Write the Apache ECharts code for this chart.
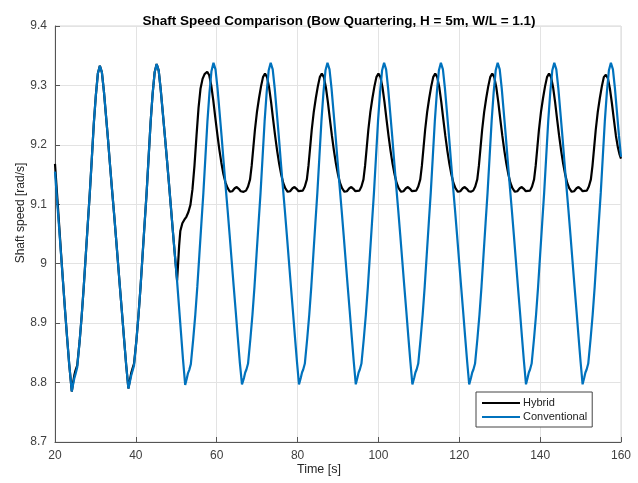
<!DOCTYPE html>
<html>
<head>
<meta charset="utf-8">
<script src="https://cdn.jsdelivr.net/npm/echarts@6/dist/echarts.min.js"></script>
<style>
  html, body { margin: 0; padding: 0; background: #fff; }
  #chart { width: 638px; height: 483px; }
</style>
</head>
<body>
<div id="chart"></div>
<script>
var titleText = 'Shaft Speed Comparison (Bow Quartering, H = 5m, W/L = 1.1)';
var xLabel = 'Time [s]';
var yLabel = 'Shaft speed [rad/s]';
var xTicks = [20, 40, 60, 80, 100, 120, 140, 160];
var yTicks = [8.7, 8.8, 8.9, 9.0, 9.1, 9.2, 9.3, 9.4];
var seriesNames = ['Hybrid', 'Conventional'];

// time [s], shaft speed [rad/s]
var conventional = [
  [20, 9.155], [20.5, 9.108], [21, 9.062], [21.5, 9.015], [22, 8.968], [22.5, 8.92], [23, 8.875], [23.5, 8.832], [24.15, 8.785],
  [24.5, 8.798], [24.8, 8.808], [25.1, 8.815], [25.5, 8.826], [26.1, 8.87], [26.6, 8.912], [27.1, 8.96], [27.6, 9.013],
  [28.1, 9.066], [28.6, 9.118], [29.1, 9.176], [29.6, 9.236], [30.1, 9.283], [30.6, 9.32], [31.1, 9.333],
  [31.6, 9.322], [32.1, 9.29], [32.6, 9.25], [33.1, 9.21], [33.6, 9.167], [34.1, 9.125], [34.6, 9.085], [35.1, 9.043],
  [35.6, 9.0], [36.1, 8.957], [36.6, 8.915], [37.1, 8.872], [37.6, 8.83], [38.15, 8.79],
  [38.55, 8.802], [38.85, 8.812], [39.15, 8.819], [39.55, 8.829], [40.15, 8.872], [40.65, 8.913], [41.15, 8.96], [41.65, 9.013],
  [42.15, 9.066], [42.65, 9.118], [43.15, 9.178], [43.65, 9.238], [44.15, 9.286], [44.65, 9.322], [45.15, 9.336],
  [45.65, 9.325], [46.15, 9.293], [46.65, 9.255], [47.15, 9.217], [47.65, 9.178], [48.15, 9.138], [48.65, 9.097], [49.15, 9.055],
  [49.65, 9.015], [50.15, 8.975], [50.65, 8.93], [51.15, 8.885], [51.65, 8.84], [52.2, 8.796],
  [52.6, 8.807], [52.9, 8.816], [53.2, 8.821], [53.6, 8.831], [54.2, 8.874], [54.7, 8.914], [55.2, 8.961], [55.7, 9.014],
  [56.2, 9.067], [56.7, 9.119], [57.2, 9.179], [57.7, 9.239], [58.2, 9.287], [58.7, 9.324], [59.2, 9.338],
  [59.7, 9.327], [60.2, 9.295], [60.7, 9.255], [61.2, 9.215], [61.7, 9.172], [62.2, 9.13], [62.7, 9.09], [63.2, 9.048],
  [63.7, 9.005], [64.2, 8.962], [64.7, 8.92], [65.2, 8.877], [65.7, 8.835], [66.25, 8.797],
  [66.75, 8.808], [67.05, 8.817], [67.35, 8.822], [67.75, 8.832], [68.35, 8.875], [68.85, 8.915], [69.35, 8.962], [69.85, 9.015],
  [70.35, 9.068], [70.85, 9.12], [71.35, 9.18], [71.85, 9.24], [72.35, 9.288], [72.85, 9.325], [73.35, 9.338],
  [73.85, 9.327], [74.35, 9.295], [74.85, 9.255], [75.35, 9.215], [75.85, 9.172], [76.35, 9.13], [76.85, 9.09], [77.35, 9.048],
  [77.85, 9.005], [78.35, 8.962], [78.85, 8.92], [79.35, 8.877], [79.85, 8.835], [80.35, 8.797],
  [80.8, 8.808], [81.1, 8.817], [81.4, 8.822], [81.8, 8.832], [82.4, 8.875], [82.9, 8.915], [83.4, 8.962], [83.9, 9.015],
  [84.4, 9.068], [84.9, 9.12], [85.4, 9.18], [85.9, 9.24], [86.4, 9.288], [86.9, 9.325], [87.4, 9.338],
  [87.9, 9.327], [88.4, 9.295], [88.9, 9.255], [89.4, 9.215], [89.9, 9.172], [90.4, 9.13], [90.9, 9.09], [91.4, 9.048],
  [91.9, 9.005], [92.4, 8.962], [92.9, 8.92], [93.4, 8.877], [93.9, 8.835], [94.4, 8.797],
  [94.8, 8.808], [95.1, 8.817], [95.4, 8.822], [95.8, 8.832], [96.4, 8.875], [96.9, 8.915], [97.4, 8.962], [97.9, 9.015],
  [98.4, 9.068], [98.9, 9.12], [99.4, 9.18], [99.9, 9.24], [100.4, 9.288], [100.9, 9.325], [101.4, 9.338],
  [101.9, 9.327], [102.4, 9.295], [102.9, 9.255], [103.4, 9.215], [103.9, 9.172], [104.4, 9.13], [104.9, 9.09], [105.4, 9.048],
  [105.9, 9.005], [106.4, 8.962], [106.9, 8.92], [107.4, 8.877], [107.9, 8.835], [108.4, 8.797],
  [108.85, 8.808], [109.15, 8.817], [109.45, 8.822], [109.85, 8.832], [110.45, 8.875], [110.95, 8.915], [111.45, 8.962], [111.95, 9.015],
  [112.45, 9.068], [112.95, 9.12], [113.45, 9.18], [113.95, 9.24], [114.45, 9.288], [114.95, 9.325], [115.45, 9.338],
  [115.95, 9.327], [116.45, 9.295], [116.95, 9.255], [117.45, 9.215], [117.95, 9.172], [118.45, 9.13], [118.95, 9.09], [119.45, 9.048],
  [119.95, 9.005], [120.45, 8.962], [120.95, 8.92], [121.45, 8.877], [121.95, 8.835], [122.45, 8.797],
  [122.9, 8.808], [123.2, 8.817], [123.5, 8.822], [123.9, 8.832], [124.5, 8.875], [125.0, 8.915], [125.5, 8.962], [126.0, 9.015],
  [126.5, 9.068], [127.0, 9.12], [127.5, 9.18], [128.0, 9.24], [128.5, 9.288], [129.0, 9.325], [129.5, 9.338],
  [130.0, 9.327], [130.5, 9.295], [131.0, 9.255], [131.5, 9.215], [132.0, 9.172], [132.5, 9.13], [133.0, 9.09], [133.5, 9.048],
  [134.0, 9.005], [134.5, 8.962], [135.0, 8.92], [135.5, 8.877], [136.0, 8.835], [136.5, 8.797],
  [136.9, 8.808], [137.2, 8.817], [137.5, 8.822], [137.9, 8.832], [138.5, 8.875], [139.0, 8.915], [139.5, 8.962], [140.0, 9.015],
  [140.5, 9.068], [141.0, 9.12], [141.5, 9.18], [142.0, 9.24], [142.5, 9.288], [143.0, 9.325], [143.5, 9.338],
  [144.0, 9.327], [144.5, 9.295], [145.0, 9.255], [145.5, 9.215], [146.0, 9.172], [146.5, 9.13], [147.0, 9.09], [147.5, 9.048],
  [148.0, 9.005], [148.5, 8.962], [149.0, 8.92], [149.5, 8.877], [150.0, 8.835], [150.5, 8.797],
  [150.9, 8.808], [151.2, 8.817], [151.5, 8.822], [151.9, 8.832], [152.5, 8.875], [153.0, 8.915], [153.5, 8.962], [154.0, 9.015],
  [154.5, 9.068], [155.0, 9.12], [155.5, 9.18], [156.0, 9.24], [156.5, 9.288], [157.0, 9.325], [157.5, 9.338],
  [158.0, 9.327], [158.5, 9.295], [159.0, 9.255], [159.5, 9.215], [160.0, 9.18]
];

var hybrid = [
  [20, 9.168], [20.5, 9.118], [21, 9.068], [21.5, 9.017], [22, 8.968], [22.5, 8.92], [23, 8.875], [23.5, 8.832], [24.15, 8.785],
  [24.5, 8.801], [24.8, 8.813], [25.1, 8.821], [25.5, 8.829], [26.1, 8.87], [26.6, 8.912], [27.1, 8.96], [27.6, 9.013],
  [28.1, 9.066], [28.6, 9.118], [29.1, 9.176], [29.6, 9.236], [30.1, 9.283], [30.6, 9.32], [31.1, 9.333],
  [31.6, 9.322], [32.1, 9.29], [32.6, 9.25], [33.1, 9.21], [33.6, 9.167], [34.1, 9.125], [34.6, 9.085], [35.1, 9.043],
  [35.6, 9.0], [36.1, 8.957], [36.6, 8.915], [37.1, 8.872], [37.6, 8.83], [38.15, 8.79],
  [38.55, 8.805], [38.85, 8.816], [39.15, 8.823], [39.55, 8.832], [40.15, 8.872], [40.65, 8.913], [41.15, 8.96], [41.65, 9.013],
  [42.15, 9.066], [42.65, 9.118], [43.15, 9.178], [43.65, 9.238], [44.15, 9.286], [44.65, 9.322], [45.15, 9.336],
  [45.65, 9.325], [46.15, 9.293], [46.65, 9.255], [47.15, 9.217], [47.65, 9.178], [48.15, 9.138], [48.65, 9.097], [49.15, 9.055],
  [49.65, 9.015], [50.2, 8.972], [50.45, 9.0], [50.7, 9.03], [51.0, 9.055], [51.5, 9.068], [52.0, 9.074], [52.5, 9.079],
  [53.0, 9.087], [53.5, 9.099], [54.0, 9.125], [54.5, 9.165], [55.0, 9.215], [55.5, 9.262], [56.0, 9.295], [56.5, 9.311],
  [57.0, 9.319], [57.65, 9.323],
  [58.15, 9.317], [58.65, 9.3], [59.15, 9.275], [59.65, 9.246], [60.15, 9.218], [60.65, 9.192], [61.15, 9.17], [61.65, 9.151],
  [62.15, 9.137], [62.65, 9.128], [63.25, 9.121], [63.85, 9.122], [64.45, 9.127], [64.95, 9.129], [65.45, 9.126], [65.95, 9.122],
  [66.65, 9.121], [67.25, 9.123], [67.75, 9.13], [68.25, 9.142], [68.65, 9.165], [69.05, 9.195], [69.45, 9.225], [69.95, 9.255],
  [70.45, 9.278], [70.95, 9.298], [71.45, 9.314], [71.95, 9.32],
  [72.45, 9.314], [72.95, 9.297], [73.45, 9.272], [73.95, 9.243], [74.45, 9.215], [74.95, 9.19], [75.45, 9.168], [75.95, 9.15],
  [76.45, 9.136], [76.95, 9.127], [77.55, 9.121], [78.15, 9.122], [78.75, 9.127], [79.25, 9.129], [79.75, 9.126], [80.25, 9.122],
  [80.7, 9.121], [81.3, 9.123], [81.8, 9.13], [82.3, 9.142], [82.7, 9.165], [83.1, 9.195], [83.5, 9.225], [84.0, 9.255],
  [84.5, 9.278], [85.0, 9.298], [85.5, 9.314], [86.0, 9.32],
  [86.5, 9.314], [87.0, 9.297], [87.5, 9.272], [88.0, 9.243], [88.5, 9.215], [89.0, 9.19], [89.5, 9.168], [90.0, 9.15],
  [90.5, 9.136], [91.0, 9.127], [91.6, 9.121], [92.2, 9.122], [92.8, 9.127], [93.3, 9.129], [93.8, 9.126], [94.3, 9.122],
  [94.7, 9.121], [95.3, 9.123], [95.8, 9.13], [96.3, 9.142], [96.7, 9.165], [97.1, 9.195], [97.5, 9.225], [98.0, 9.255],
  [98.5, 9.278], [99.0, 9.298], [99.5, 9.314], [100.0, 9.32],
  [100.5, 9.314], [101.0, 9.297], [101.5, 9.272], [102.0, 9.243], [102.5, 9.215], [103.0, 9.19], [103.5, 9.168], [104.0, 9.15],
  [104.5, 9.136], [105.0, 9.127], [105.6, 9.121], [106.2, 9.122], [106.8, 9.127], [107.3, 9.129], [107.8, 9.126], [108.3, 9.122],
  [108.75, 9.121], [109.35, 9.123], [109.85, 9.13], [110.35, 9.142], [110.75, 9.165], [111.15, 9.195], [111.55, 9.225], [112.05, 9.255],
  [112.55, 9.278], [113.05, 9.298], [113.55, 9.314], [114.05, 9.32],
  [114.55, 9.314], [115.05, 9.297], [115.55, 9.272], [116.05, 9.243], [116.55, 9.215], [117.05, 9.19], [117.55, 9.168], [118.05, 9.15],
  [118.55, 9.136], [119.05, 9.127], [119.65, 9.121], [120.25, 9.122], [120.85, 9.127], [121.35, 9.129], [121.85, 9.126], [122.35, 9.122],
  [122.85, 9.121], [123.45, 9.123], [123.95, 9.13], [124.45, 9.142], [124.85, 9.165], [125.25, 9.195], [125.65, 9.225], [126.15, 9.255],
  [126.65, 9.278], [127.15, 9.298], [127.65, 9.314], [128.15, 9.32],
  [128.65, 9.314], [129.15, 9.297], [129.65, 9.272], [130.15, 9.243], [130.65, 9.215], [131.15, 9.19], [131.65, 9.168], [132.15, 9.15],
  [132.65, 9.136], [133.15, 9.127], [133.75, 9.121], [134.35, 9.122], [134.95, 9.127], [135.45, 9.129], [135.95, 9.126], [136.45, 9.122],
  [136.9, 9.121], [137.5, 9.123], [138.0, 9.13], [138.5, 9.142], [138.9, 9.165], [139.3, 9.195], [139.7, 9.225], [140.2, 9.255],
  [140.7, 9.278], [141.2, 9.298], [141.7, 9.314], [142.2, 9.32],
  [142.7, 9.314], [143.2, 9.297], [143.7, 9.272], [144.2, 9.243], [144.7, 9.215], [145.2, 9.19], [145.7, 9.168], [146.2, 9.15],
  [146.7, 9.136], [147.2, 9.127], [147.8, 9.121], [148.4, 9.122], [149.0, 9.127], [149.5, 9.129], [150.0, 9.126], [150.5, 9.122],
  [150.95, 9.121], [151.55, 9.123], [152.05, 9.13], [152.55, 9.142], [152.95, 9.165], [153.35, 9.195], [153.75, 9.225], [154.25, 9.255],
  [154.75, 9.278], [155.25, 9.298], [155.75, 9.314], [156.25, 9.318],
  [156.75, 9.312], [157.25, 9.295], [157.75, 9.27], [158.25, 9.242], [158.75, 9.215], [159.25, 9.195], [159.6, 9.185], [160.0, 9.177]
];

var chart = echarts.init(document.getElementById('chart'));
var font = 'Liberation Sans, Arial, Helvetica, sans-serif';

chart.setOption({
  animation: false,
  backgroundColor: '#fff',
  color: ['#000000', '#0072BD'],
  textStyle: { fontFamily: font },
  title: {
    text: titleText,
    left: 334, top: 9, textAlign: 'center',
    textStyle: { fontSize: 13.5, fontWeight: 'bold', color: '#000', fontFamily: font }
  },
  grid: {
    left: 55, right: 17, top: 26, bottom: 41,
    show: true, borderColor: '#d6d6d6', borderWidth: 1, backgroundColor: '#fff'
  },
  legend: {
    orient: 'vertical',
    left: 476, top: 392,
    padding: [4, 5, 3, 6],
    itemGap: 0,
    itemWidth: 38, itemHeight: 2,
    icon: 'rect',
    borderColor: '#444', borderWidth: 1, borderRadius: 0,
    backgroundColor: '#fff',
    textStyle: { fontSize: 11, color: '#222', lineHeight: 14, padding: [0, 0, 0, -2], fontFamily: font },
    data: seriesNames
  },
  xAxis: {
    type: 'value',
    min: xTicks[0], max: xTicks[xTicks.length - 1], interval: 20,
    axisLine: { lineStyle: { color: '#555', width: 1 } },
    axisTick: { inside: true, length: 5, lineStyle: { color: '#555' } },
    axisLabel: { color: '#404040', fontSize: 12, margin: 8, fontFamily: font },
    splitLine: { show: true, lineStyle: { color: '#e3e3e3', width: 1 } }
  },
  yAxis: {
    type: 'value',
    min: yTicks[0], max: yTicks[yTicks.length - 1], interval: 0.1,
    axisLine: { show: true, lineStyle: { color: '#555', width: 1 } },
    axisTick: { show: true, inside: true, length: 5, lineStyle: { color: '#555' } },
    axisLabel: {
      color: '#404040', fontSize: 12, margin: 8, fontFamily: font,
      formatter: function (v) { return String(+v.toFixed(1)); }
    },
    splitLine: { show: true, lineStyle: { color: '#e3e3e3', width: 1 } }
  },
  graphic: [
    {
      type: 'text', left: 'center', top: 463,
      style: { text: xLabel, fontSize: 12.5, fill: '#262626', fontFamily: font }
    },
    {
      type: 'text', x: 21, y: 213, rotation: Math.PI / 2,
      style: { text: yLabel, fontSize: 12, fill: '#262626', fontFamily: font, textAlign: 'center', textVerticalAlign: 'middle' }
    }
  ],
  series: [
    {
      name: seriesNames[0], type: 'line', data: hybrid,
      showSymbol: false, symbol: 'none',
      lineStyle: { width: 2.2, color: '#000000' }
    },
    {
      name: seriesNames[1], type: 'line', data: conventional,
      showSymbol: false, symbol: 'none',
      lineStyle: { width: 2.2, color: '#0072BD' }
    }
  ]
});
</script>
</body>
</html>
